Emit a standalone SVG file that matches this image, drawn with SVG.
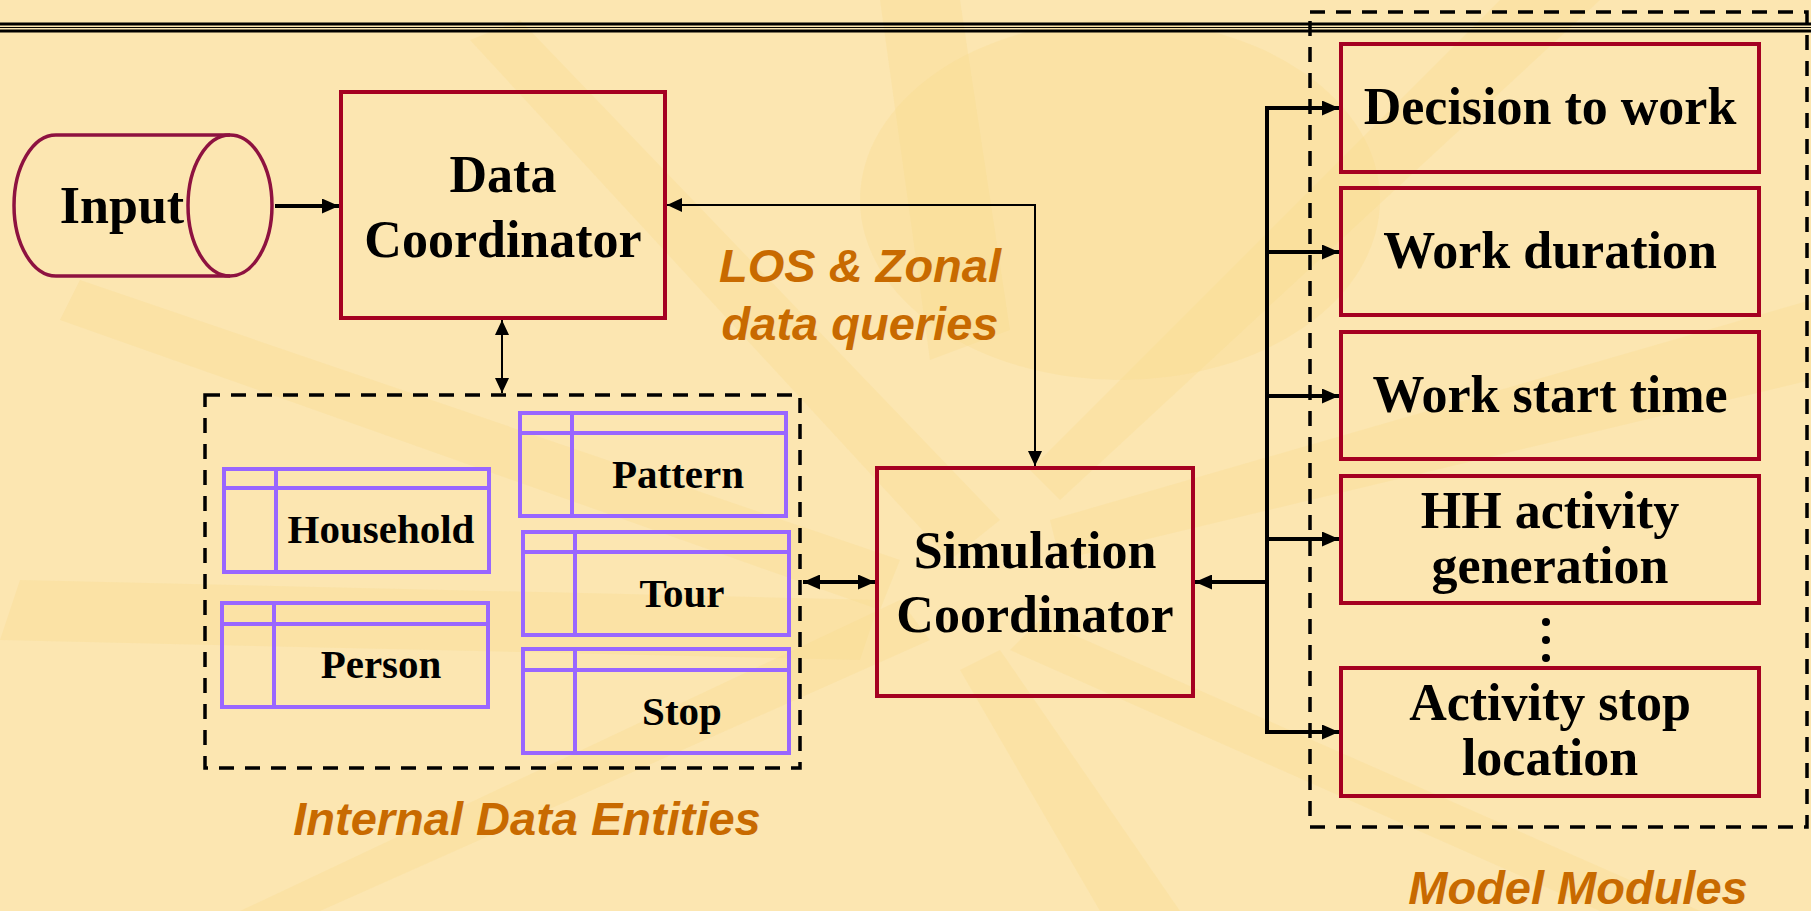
<svg xmlns="http://www.w3.org/2000/svg" width="1811" height="911" viewBox="0 0 1811 911">
<defs>
<style>
.bg{fill:#FCE6B1}
.ray{fill:#F8D98C;opacity:0.3}
.box{fill:none;stroke:#A50021;stroke-width:4}
.cyl{fill:none;stroke:#8E1240;stroke-width:3.5}
.tbl{fill:none;stroke:#9966FF;stroke-width:4}
.dash{fill:none;stroke:#000;stroke-width:3.5;stroke-dasharray:15 11}
.t{font-family:"Liberation Serif","Times New Roman",serif;font-weight:bold;fill:#000;text-anchor:middle}
.big{font-size:52px}
.sm{font-size:41px}
.lbl{font-family:"Liberation Sans",Arial,sans-serif;font-weight:bold;font-style:italic;font-size:47px;fill:#C86A00;text-anchor:middle}
.thick{fill:none;stroke:#000;stroke-width:4}
.thin{fill:none;stroke:#000;stroke-width:2}
</style>
<marker id="ah" markerUnits="userSpaceOnUse" markerWidth="17" markerHeight="15" refX="17" refY="7.5" orient="auto-start-reverse" viewBox="0 0 17 15">
<path d="M0,0 L17,7.5 L0,15 z" fill="#000"/>
</marker>
<marker id="ahs" markerUnits="userSpaceOnUse" markerWidth="15" markerHeight="14" refX="15" refY="7" orient="auto-start-reverse" viewBox="0 0 15 14">
<path d="M0,0 L15,7 L0,14 z" fill="#000"/>
</marker>
</defs>
<rect class="bg" x="0" y="0" width="1811" height="911"/>
<g id="background-rays">
<polygon class="ray" points="880,0 960,0 1010,330 930,360"/>
<polygon class="ray" points="470,40 520,20 1000,520 950,560"/>
<polygon class="ray" points="60,320 80,280 900,560 880,610"/>
<polygon class="ray" points="0,640 20,580 880,600 860,660"/>
<polygon class="ray" points="240,911 320,911 930,640 900,600"/>
<polygon class="ray" points="1100,911 1180,911 1000,650 960,670"/>
<polygon class="ray" points="1600,911 1700,911 1040,620 1010,650"/>
<polygon class="ray" points="1811,300 1811,380 1060,560 1050,520"/>
<polygon class="ray" points="1500,0 1600,0 1060,500 1030,470"/>
<ellipse class="ray" cx="1120" cy="200" rx="260" ry="180"/>
</g>
<g id="header-rule">
<line x1="0" y1="24" x2="1811" y2="24" stroke="#000" stroke-width="3"/>
<line x1="0" y1="27.5" x2="1811" y2="27.5" stroke="#000" stroke-width="1.2"/>
<line x1="0" y1="31" x2="1811" y2="31" stroke="#000" stroke-width="3"/>
</g>
<g id="connectors">
<line class="thick" x1="275" y1="206" x2="339" y2="206" marker-end="url(#ah)"/>
<polyline class="thin" points="1035,466 1035,205 667,205" marker-start="url(#ahs)" marker-end="url(#ahs)"/>
<line class="thin" x1="502" y1="320" x2="502" y2="393" marker-start="url(#ahs)" marker-end="url(#ahs)"/>
<line class="thick" x1="803" y1="582" x2="875" y2="582" marker-start="url(#ah)" marker-end="url(#ah)"/>
<line class="thick" x1="1267" y1="582" x2="1195" y2="582" marker-end="url(#ah)"/>
<line class="thick" x1="1267" y1="106" x2="1267" y2="734"/>
<line class="thick" x1="1265" y1="108" x2="1339" y2="108" marker-end="url(#ah)"/>
<line class="thick" x1="1265" y1="252" x2="1339" y2="252" marker-end="url(#ah)"/>
<line class="thick" x1="1265" y1="396" x2="1339" y2="396" marker-end="url(#ah)"/>
<line class="thick" x1="1265" y1="539" x2="1339" y2="539" marker-end="url(#ah)"/>
<line class="thick" x1="1265" y1="732" x2="1339" y2="732" marker-end="url(#ah)"/>
</g>
<g id="input">
<path class="cyl" d="M56,135 L230,135 M56,276 L230,276 M56,135 A42,70.5 0 0 0 56,276"/>
<ellipse class="cyl" cx="230" cy="205.5" rx="42" ry="70.5"/>
<text class="t big" x="122" y="223">Input</text>
</g>
<g id="data-coordinator">
<rect class="box" x="341" y="92" width="324" height="226"/>
<text class="t big" x="503" y="192">Data</text>
<text class="t big" x="503" y="257">Coordinator</text>
</g>
<g id="los-label">
<text class="lbl" x="860" y="282">LOS &amp; Zonal</text>
<text class="lbl" x="860" y="340">data queries</text>
</g>
<g id="internal-data-entities">
<rect class="dash" x="205" y="395" width="595" height="373"/>
<text class="lbl" x="527" y="835">Internal Data Entities</text>
</g>
<g id="household">
<rect class="tbl" x="224" y="469" width="265" height="103"/>
<line class="tbl" x1="224" y1="488" x2="489" y2="488"/>
<line class="tbl" x1="276" y1="469" x2="276" y2="572"/>
<text class="t sm" x="381" y="543">Household</text>
</g>
<g id="person">
<rect class="tbl" x="222" y="603" width="266" height="104"/>
<line class="tbl" x1="222" y1="624" x2="488" y2="624"/>
<line class="tbl" x1="274" y1="603" x2="274" y2="707"/>
<text class="t sm" x="381" y="678">Person</text>
</g>
<g id="pattern">
<rect class="tbl" x="520" y="413" width="266" height="103"/>
<line class="tbl" x1="520" y1="433" x2="786" y2="433"/>
<line class="tbl" x1="572" y1="413" x2="572" y2="516"/>
<text class="t sm" x="678" y="488">Pattern</text>
</g>
<g id="tour">
<rect class="tbl" x="523" y="532" width="266" height="103"/>
<line class="tbl" x1="523" y1="552" x2="789" y2="552"/>
<line class="tbl" x1="575" y1="532" x2="575" y2="635"/>
<text class="t sm" x="682" y="607">Tour</text>
</g>
<g id="stop">
<rect class="tbl" x="523" y="649" width="266" height="104"/>
<line class="tbl" x1="523" y1="670" x2="789" y2="670"/>
<line class="tbl" x1="575" y1="649" x2="575" y2="753"/>
<text class="t sm" x="682" y="725">Stop</text>
</g>
<g id="simulation-coordinator">
<rect class="box" x="877" y="468" width="316" height="228"/>
<text class="t big" x="1035" y="568">Simulation</text>
<text class="t big" x="1035" y="632">Coordinator</text>
</g>
<g id="model-modules">
<rect class="dash" x="1310" y="12" width="497" height="815"/>
<text class="lbl" x="1578" y="904">Model Modules</text>
</g>
<g id="decision-to-work">
<rect class="box" x="1341" y="44" width="418" height="128"/>
<text class="t big" x="1550" y="124">Decision to work</text>
</g>
<g id="work-duration">
<rect class="box" x="1341" y="188" width="418" height="127"/>
<text class="t big" x="1550" y="268">Work duration</text>
</g>
<g id="work-start-time">
<rect class="box" x="1341" y="332" width="418" height="127"/>
<text class="t big" x="1550" y="412">Work start time</text>
</g>
<g id="hh-activity-generation">
<rect class="box" x="1341" y="476" width="418" height="127"/>
<text class="t big" x="1550" y="528">HH activity</text>
<text class="t big" x="1550" y="583">generation</text>
</g>
<g id="ellipsis">
<circle cx="1546" cy="622" r="4" fill="#000"/>
<circle cx="1546" cy="640" r="4" fill="#000"/>
<circle cx="1546" cy="658" r="4" fill="#000"/>
</g>
<g id="activity-stop-location">
<rect class="box" x="1341" y="668" width="418" height="128"/>
<text class="t big" x="1550" y="720">Activity stop</text>
<text class="t big" x="1550" y="775">location</text>
</g>
</svg>
